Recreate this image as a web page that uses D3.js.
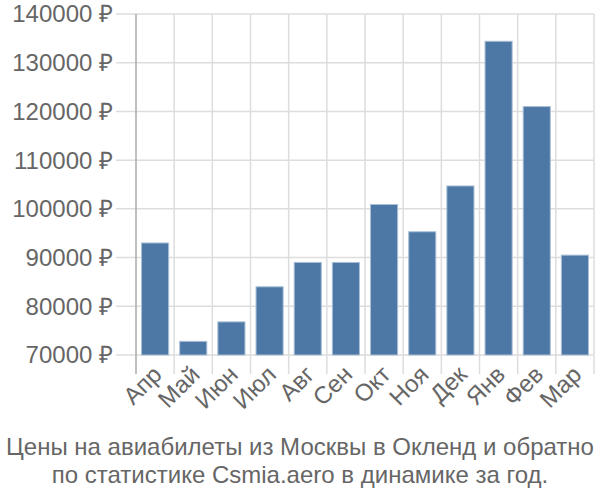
<!DOCTYPE html>
<html><head><meta charset="utf-8">
<script src="https://cdn.jsdelivr.net/npm/d3@7"></script>
<style>body{margin:0;background:#fff;}svg{display:block;font-family:"Liberation Sans",Arial,sans-serif;}</style>
</head><body>
<svg id="c" width="600" height="500"></svg>
<script>
const months = ["Апр","Май","Июн","Июл","Авг","Сен","Окт","Ноя","Дек","Янв","Фев","Мар"];
const prices = [93000,72800,76800,84000,89000,89000,100900,95300,104700,134400,121000,90500];
const yTicks = [70000,80000,90000,100000,110000,120000,130000,140000];
const titleLines = ["Цены на авиабилеты из Москвы в Окленд и обратно","по статистике Csmia.aero в динамике за год."];

const svg = d3.select("#c");
const x = d3.scaleBand().domain(months).range([136,594]).paddingInner(0.29).paddingOuter(0.145);
const xg = d3.scaleBand().domain(months).range([136,594]);
const y = d3.scaleLinear().domain([70000,140000]).range([355,14]);

// horizontal grid
svg.append("g").selectAll("line").data(yTicks).join("line")
  .attr("x1",116).attr("x2",594).attr("y1",d=>y(d)).attr("y2",d=>y(d))
  .attr("stroke","#dddddd").attr("stroke-width",1.5);
// vertical grid
const vx = months.map(m=>xg(m)).slice(1).concat([594]);
svg.append("g").selectAll("line").data(vx).join("line")
  .attr("x1",d=>d).attr("x2",d=>d).attr("y1",14).attr("y2",374)
  .attr("stroke","#dddddd").attr("stroke-width",1.5);
// y axis line
svg.append("line").attr("x1",136).attr("x2",136).attr("y1",14).attr("y2",374)
  .attr("stroke","#aaaaaa").attr("stroke-width",1.5);

// bars
svg.append("g").selectAll("rect").data(prices).join("rect")
  .attr("x",(d,i)=>x(months[i])).attr("width",x.bandwidth())
  .attr("y",d=>y(d)).attr("height",d=>y(70000)-y(d))
  .attr("fill","#4d78a6").attr("stroke","#a9bfd6").attr("stroke-width",1);

// y labels
svg.append("g").selectAll("text").data(yTicks).join("text")
  .attr("x",113).attr("y",d=>y(d)).attr("dy","0.35em").attr("text-anchor","end")
  .attr("font-size",24).attr("fill","#666").text(d=>d+" ₽");

// x labels
svg.append("g").selectAll("text").data(months).join("text")
  .attr("text-anchor","end").attr("font-size",24).attr("fill","#666")
  .attr("transform",d=>`translate(${xg(d)+xg.bandwidth()/2+8},${376}) rotate(-45)`)
  .text(d=>d);

// title
svg.append("g").selectAll("text").data(titleLines).join("text")
  .attr("x",300).attr("y",(d,i)=>455+i*28).attr("text-anchor","middle")
  .attr("font-size",24).attr("fill","#666").text(d=>d);
</script>
</body></html>
